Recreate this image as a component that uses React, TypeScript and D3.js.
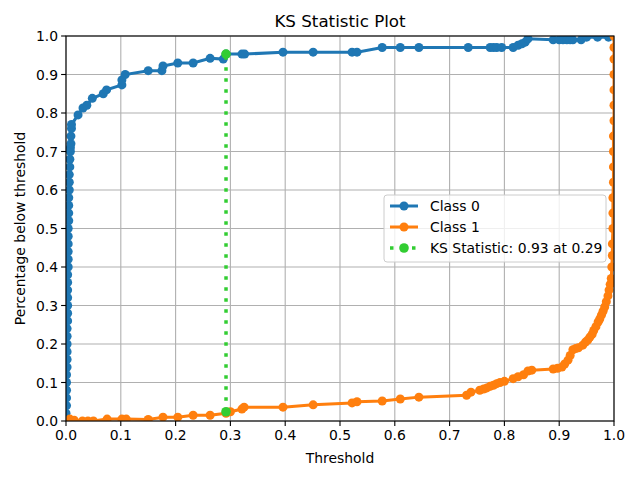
import React from "react";
import * as d3 from "d3";

const class0X = [0.0, 0.0, 0.001, 0.001, 0.001, 0.001, 0.001, 0.002, 0.002, 0.002, 0.002, 0.002, 0.002, 0.003, 0.003, 0.003, 0.003, 0.003, 0.003, 0.003, 0.004, 0.004, 0.004, 0.004, 0.004, 0.004, 0.005, 0.005, 0.005, 0.005, 0.006, 0.006, 0.006, 0.007, 0.007, 0.008, 0.008, 0.009, 0.009, 0.010, 0.010, 0.022, 0.031, 0.038, 0.048, 0.068, 0.074, 0.102, 0.102, 0.108, 0.15, 0.175, 0.177, 0.204, 0.232, 0.263, 0.287, 0.292, 0.321, 0.326, 0.396, 0.451, 0.522, 0.531, 0.577, 0.61, 0.644, 0.734, 0.774, 0.78, 0.786, 0.795, 0.816, 0.825, 0.832, 0.838, 0.843, 0.889, 0.90, 0.907, 0.914, 0.92, 0.925, 0.94, 0.95, 0.97, 0.99, 1.0];
const class0Y = [0.0, 0.02, 0.04, 0.06, 0.08, 0.10, 0.12, 0.14, 0.16, 0.18, 0.20, 0.22, 0.24, 0.26, 0.28, 0.30, 0.32, 0.34, 0.36, 0.38, 0.40, 0.42, 0.44, 0.46, 0.48, 0.50, 0.52, 0.54, 0.56, 0.58, 0.60, 0.62, 0.64, 0.66, 0.68, 0.70, 0.71, 0.72, 0.74, 0.76, 0.77, 0.795, 0.813, 0.82, 0.838, 0.85, 0.86, 0.873, 0.886, 0.90, 0.91, 0.91, 0.922, 0.93, 0.93, 0.942, 0.94, 0.953, 0.953, 0.953, 0.958, 0.958, 0.958, 0.958, 0.97, 0.97, 0.97, 0.97, 0.97, 0.97, 0.97, 0.97, 0.97, 0.976, 0.98, 0.984, 0.993, 0.99, 0.99, 0.99, 0.99, 0.99, 0.99, 0.99, 0.997, 0.997, 0.997, 1.0];

const class1X = [0.0, 0.007, 0.015, 0.03, 0.04, 0.05, 0.075, 0.102, 0.11, 0.15, 0.177, 0.204, 0.232, 0.263, 0.292, 0.30, 0.321, 0.325, 0.396, 0.451, 0.522, 0.531, 0.577, 0.61, 0.644, 0.731, 0.739, 0.755, 0.762, 0.768, 0.774, 0.78, 0.786, 0.792, 0.80, 0.816, 0.825, 0.835, 0.843, 0.85, 0.889, 0.897, 0.905, 0.91, 0.916, 0.92, 0.925, 0.93, 0.935, 0.943, 0.948, 0.952, 0.956, 0.96, 0.963, 0.967, 0.971, 0.974, 0.977, 0.98, 0.983, 0.986, 0.989, 0.991, 0.993, 0.995, 0.996, 0.997, 0.997, 0.998, 0.998, 0.998, 0.999, 0.999, 0.999, 0.999, 1.0, 1.0, 1.0, 1.0, 1.0, 1.0, 1.0];
const class1Y = [0.0, 0.005, 0.002, 0.0, 0.0, 0.0, 0.005, 0.005, 0.005, 0.004, 0.01, 0.01, 0.015, 0.015, 0.02, 0.024, 0.031, 0.036, 0.036, 0.042, 0.047, 0.05, 0.052, 0.057, 0.062, 0.067, 0.075, 0.08, 0.083, 0.086, 0.09, 0.093, 0.097, 0.10, 0.103, 0.11, 0.115, 0.12, 0.13, 0.132, 0.135, 0.137, 0.14, 0.148, 0.158, 0.17, 0.185, 0.188, 0.19, 0.197, 0.205, 0.21, 0.218, 0.225, 0.235, 0.245, 0.257, 0.265, 0.275, 0.285, 0.296, 0.31, 0.325, 0.34, 0.355, 0.37, 0.40, 0.43, 0.46, 0.50, 0.54, 0.58, 0.62, 0.66, 0.70, 0.74, 0.78, 0.82, 0.86, 0.90, 0.94, 0.97, 1.0];

const ksX = [0.292, 0.292];
const ksY = [0.024, 0.953];
const ksLabel = "KS Statistic: 0.93 at 0.29";

const ticks = [0, 0.1, 0.2, 0.3, 0.4, 0.5, 0.6, 0.7, 0.8, 0.9, 1.0];

const W = 640, H = 480;
const L = 66, R = 614, T = 36, B = 421;
const BLUE = "#1f77b4", ORANGE = "#ff7f0e", GREEN = "#32cd32";
const FONT = "DejaVu Sans, sans-serif";

export default function App() {
  const x = d3.scaleLinear().domain([0, 1]).range([L, R]);
  const y = d3.scaleLinear().domain([0, 1]).range([B, T]);
  const line = d3.line<[number, number]>().x(d => x(d[0])).y(d => y(d[1]));
  const s0: [number, number][] = class0X.map((v, i) => [v, class0Y[i]]);
  const s1: [number, number][] = class1X.map((v, i) => [v, class1Y[i]]);
  const ks: [number, number][] = ksX.map((v, i) => [v, ksY[i]]);
  const fmt = d3.format(".1f");
  const lx = 384, ly = 195;
  return (
    <svg width={W} height={H} style={{ position: "fixed", left: 0, top: 0, background: "#fff" }} fontFamily={FONT}>
      <defs>
        <clipPath id="ax"><rect x={L} y={T} width={R - L} height={B - T} /></clipPath>
      </defs>
      <rect x={0} y={0} width={W} height={H} fill="#fff" />
      {ticks.map(t => (
        <g key={"g" + t}>
          <line x1={x(t)} x2={x(t)} y1={T} y2={B} stroke="#b0b0b0" strokeWidth={1.1} />
          <line x1={L} x2={R} y1={y(t)} y2={y(t)} stroke="#b0b0b0" strokeWidth={1.1} />
        </g>
      ))}
      <g clipPath="url(#ax)">
        <path d={line(s0)!} fill="none" stroke={BLUE} strokeWidth={3} />
        {s0.map((d, i) => <circle key={"a" + i} cx={x(d[0])} cy={y(d[1])} r={4.5} fill={BLUE} />)}
        <path d={line(s1)!} fill="none" stroke={ORANGE} strokeWidth={3} />
        {s1.map((d, i) => <circle key={"b" + i} cx={x(d[0])} cy={y(d[1])} r={4.5} fill={ORANGE} />)}
        <path d={line(ks)!} fill="none" stroke={GREEN} strokeWidth={3.5} strokeDasharray="3.5 7.5" />
        {ks.map((d, i) => <circle key={"k" + i} cx={x(d[0])} cy={y(d[1])} r={4.8} fill={GREEN} />)}
      </g>
      <rect x={L} y={T} width={R - L} height={B - T} fill="none" stroke="#000" strokeWidth={1.1} />
      {ticks.map(t => (
        <g key={"t" + t} fontSize={13.9} fill="#000">
          <line x1={x(t)} x2={x(t)} y1={B} y2={B + 4.9} stroke="#000" strokeWidth={1.1} />
          <text x={x(t)} y={B + 19} textAnchor="middle">{fmt(t)}</text>
          <line x1={L - 4.9} x2={L} y1={y(t)} y2={y(t)} stroke="#000" strokeWidth={1.1} />
          <text x={L - 8} y={y(t) + 5} textAnchor="end">{fmt(t)}</text>
        </g>
      ))}
      <text x={(L + R) / 2} y={27} textAnchor="middle" fontSize={16.7}>KS Statistic Plot</text>
      <text x={(L + R) / 2} y={463} textAnchor="middle" fontSize={13.9}>Threshold</text>
      <text transform={`translate(25,${(T + B) / 2}) rotate(-90)`} textAnchor="middle" fontSize={13.9}>Percentage below threshold</text>
      <g>
        <rect x={lx} y={ly} width={222} height={67} rx={3} fill="#fff" fillOpacity={0.8} stroke="#cccccc" strokeWidth={1} />
        <line x1={lx + 6} x2={lx + 34} y1={ly + 11} y2={ly + 11} stroke={BLUE} strokeWidth={3} />
        <circle cx={lx + 20} cy={ly + 11} r={4.5} fill={BLUE} />
        <text x={lx + 46} y={ly + 16} fontSize={13.9}>Class 0</text>
        <line x1={lx + 6} x2={lx + 34} y1={ly + 32} y2={ly + 32} stroke={ORANGE} strokeWidth={3} />
        <circle cx={lx + 20} cy={ly + 32} r={4.5} fill={ORANGE} />
        <text x={lx + 46} y={ly + 37} fontSize={13.9}>Class 1</text>
        <line x1={lx + 6} x2={lx + 34} y1={ly + 53} y2={ly + 53} stroke={GREEN} strokeWidth={3.5} strokeDasharray="3.5 7.5" />
        <circle cx={lx + 20} cy={ly + 53} r={4.8} fill={GREEN} />
        <text x={lx + 46} y={ly + 58} fontSize={13.9}>{ksLabel}</text>
      </g>
    </svg>
  );
}
